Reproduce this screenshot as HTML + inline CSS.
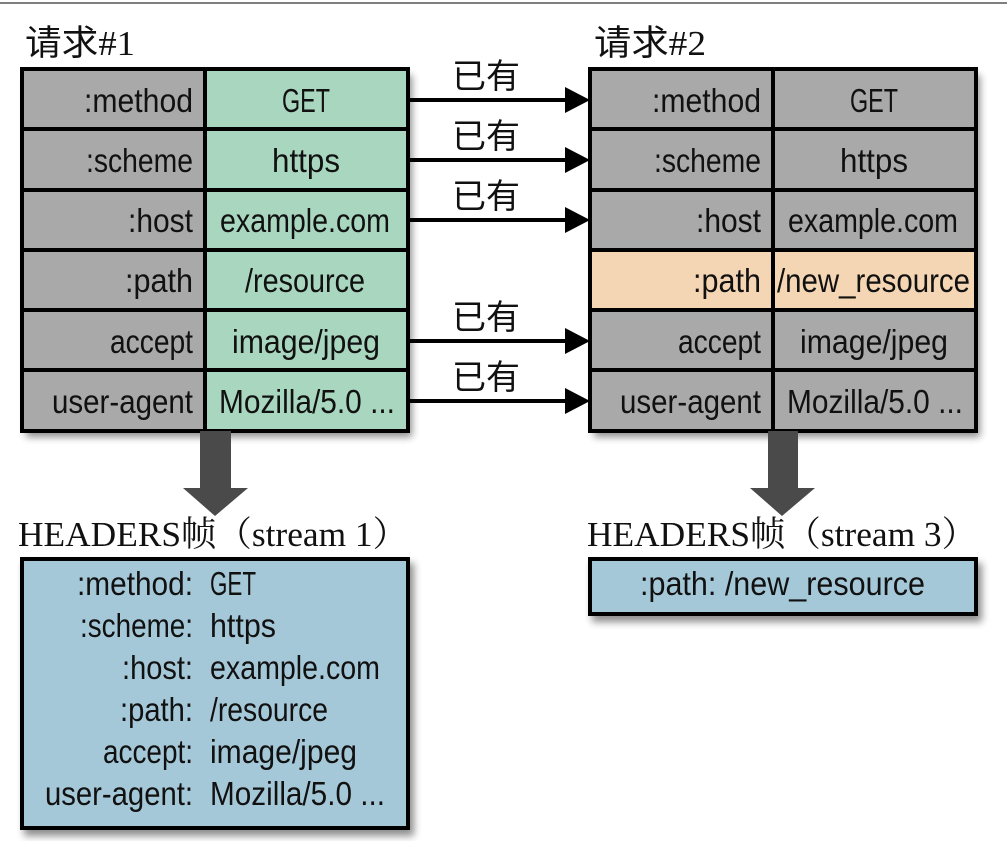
<!DOCTYPE html>
<html><head><meta charset="utf-8"><style>
html,body{margin:0;padding:0;background:#fff;width:1007px;height:841px;overflow:hidden}
svg{display:block}
.n{font-family:"Liberation Sans",sans-serif;font-size:33px;fill:#111}
.s{font-family:"Liberation Serif","Noto Serif CJK SC",serif;font-size:35px;fill:#111}
.c{font-family:"Liberation Sans","Noto Sans CJK SC",sans-serif;font-size:34px;fill:#111}
</style></head><body>
<svg width="1007" height="841" viewBox="0 0 1007 841" xmlns="http://www.w3.org/2000/svg">
<defs><filter id="sh" x="-5%" y="-5%" width="115%" height="120%"><feGaussianBlur in="SourceAlpha" stdDeviation="4"/><feOffset dx="4" dy="6"/><feComponentTransfer><feFuncA type="linear" slope="0.45"/></feComponentTransfer><feMerge><feMergeNode/><feMergeNode in="SourceGraphic"/></feMerge></filter></defs>
<line x1="0" y1="3" x2="1007" y2="3" stroke="#555" stroke-width="1.5"/>
<text class="s" x="25" y="55" textLength="110" lengthAdjust="spacingAndGlyphs"><tspan font-family="Noto Sans CJK SC">请求</tspan>#1</text>
<text class="s" x="594" y="55" textLength="112" lengthAdjust="spacingAndGlyphs"><tspan font-family="Noto Sans CJK SC">请求</tspan>#2</text>

<g filter="url(#sh)"><rect x="22" y="69" width="386" height="362" fill="#000"/></g>
<g stroke="#000" stroke-width="4">
<rect x="22" y="69" width="183" height="362" fill="#a9a9a9"/>
<rect x="205" y="69" width="203" height="362" fill="#a8d6bf"/>
<line x1="22" y1="129" x2="408" y2="129"/><line x1="22" y1="190" x2="408" y2="190"/><line x1="22" y1="250" x2="408" y2="250"/><line x1="22" y1="310" x2="408" y2="310"/><line x1="22" y1="370" x2="408" y2="370"/>
</g>
<g class="n" lengthAdjust="spacingAndGlyphs">
<text x="84" y="112" textLength="109" lengthAdjust="spacingAndGlyphs">:method</text>
<text x="86" y="172" textLength="107" lengthAdjust="spacingAndGlyphs">:scheme</text>
<text x="128" y="232" textLength="65" lengthAdjust="spacingAndGlyphs">:host</text>
<text x="125" y="292" textLength="68" lengthAdjust="spacingAndGlyphs">:path</text>
<text x="110" y="353" textLength="83" lengthAdjust="spacingAndGlyphs">accept</text>
<text x="52" y="413" textLength="141" lengthAdjust="spacingAndGlyphs">user-agent</text>
<text x="282" y="112" textLength="48" lengthAdjust="spacingAndGlyphs">GET</text>
<text x="272" y="172" textLength="68" lengthAdjust="spacingAndGlyphs">https</text>
<text x="220" y="232" textLength="170" lengthAdjust="spacingAndGlyphs">example.com</text>
<text x="245" y="292" textLength="120" lengthAdjust="spacingAndGlyphs">/resource</text>
<text x="232" y="353" textLength="148" lengthAdjust="spacingAndGlyphs">image/jpeg</text>
<text x="219" y="413" textLength="176" lengthAdjust="spacingAndGlyphs">Mozilla/5.0 ...</text>
</g>

<g filter="url(#sh)"><rect x="590" y="69" width="386" height="362" fill="#000"/></g>
<g stroke="#000" stroke-width="4">
<rect x="590" y="69" width="183" height="362" fill="#a9a9a9"/>
<rect x="773" y="69" width="203" height="362" fill="#a9a9a9"/>
<rect x="590" y="250" width="386" height="60" fill="#f5d6b4"/>
<line x1="773" y1="69" x2="773" y2="431"/>
<line x1="590" y1="129" x2="976" y2="129"/><line x1="590" y1="190" x2="976" y2="190"/><line x1="590" y1="250" x2="976" y2="250"/><line x1="590" y1="310" x2="976" y2="310"/><line x1="590" y1="370" x2="976" y2="370"/>
</g>
<g class="n">
<text x="652" y="112" textLength="109" lengthAdjust="spacingAndGlyphs">:method</text>
<text x="654" y="172" textLength="107" lengthAdjust="spacingAndGlyphs">:scheme</text>
<text x="696" y="232" textLength="65" lengthAdjust="spacingAndGlyphs">:host</text>
<text x="693" y="292" textLength="68" lengthAdjust="spacingAndGlyphs">:path</text>
<text x="678" y="353" textLength="83" lengthAdjust="spacingAndGlyphs">accept</text>
<text x="620" y="413" textLength="141" lengthAdjust="spacingAndGlyphs">user-agent</text>
<text x="850" y="112" textLength="48" lengthAdjust="spacingAndGlyphs">GET</text>
<text x="840" y="172" textLength="68" lengthAdjust="spacingAndGlyphs">https</text>
<text x="788" y="232" textLength="170" lengthAdjust="spacingAndGlyphs">example.com</text>
<text x="777" y="292" textLength="193" lengthAdjust="spacingAndGlyphs">/new_resource</text>
<text x="800" y="353" textLength="148" lengthAdjust="spacingAndGlyphs">image/jpeg</text>
<text x="787" y="413" textLength="176" lengthAdjust="spacingAndGlyphs">Mozilla/5.0 ...</text>
</g>

<g stroke="#000" stroke-width="4">
<line x1="408" y1="100" x2="570" y2="100"/><line x1="408" y1="160" x2="570" y2="160"/><line x1="408" y1="220" x2="570" y2="220"/><line x1="408" y1="341" x2="570" y2="341"/><line x1="408" y1="401" x2="570" y2="401"/>
</g>
<g fill="#000">
<polygon points="565,87 590,100 565,113"/><polygon points="565,147 590,160 565,173"/><polygon points="565,207 590,220 565,233"/><polygon points="565,328 590,341 565,354"/><polygon points="565,388 590,401 565,414"/>
</g>
<g class="c">
<text x="452" y="88">已有</text><text x="452" y="148">已有</text><text x="452" y="208">已有</text><text x="452" y="329">已有</text><text x="452" y="389">已有</text>
</g>

<g fill="#4a4a4a">
<rect x="200" y="431" width="31" height="58"/><polygon points="183,488 248,488 215,516"/>
<rect x="768" y="431" width="30" height="58"/><polygon points="750,488 815,488 782,516"/>
</g>

<text class="s" x="18" y="546" textLength="390" lengthAdjust="spacingAndGlyphs">HEADERS<tspan font-family="Noto Serif CJK SC">帧（</tspan>stream 1<tspan font-family="Noto Serif CJK SC">）</tspan></text>
<text class="s" x="587" y="546" textLength="390" lengthAdjust="spacingAndGlyphs">HEADERS<tspan font-family="Noto Serif CJK SC">帧（</tspan>stream 3<tspan font-family="Noto Serif CJK SC">）</tspan></text>

<g filter="url(#sh)">
<rect x="22" y="559" width="386" height="269" fill="#a5c8d8" stroke="#000" stroke-width="4"/>
<rect x="590" y="559" width="386" height="55" fill="#a5c8d8" stroke="#000" stroke-width="4"/>
</g>
<g class="n">
<text x="77" y="595" textLength="116" lengthAdjust="spacingAndGlyphs">:method:</text>
<text x="80" y="637" textLength="113" lengthAdjust="spacingAndGlyphs">:scheme:</text>
<text x="122" y="679" textLength="71" lengthAdjust="spacingAndGlyphs">:host:</text>
<text x="120" y="721" textLength="73" lengthAdjust="spacingAndGlyphs">:path:</text>
<text x="103" y="763" textLength="90" lengthAdjust="spacingAndGlyphs">accept:</text>
<text x="45" y="805" textLength="148" lengthAdjust="spacingAndGlyphs">user-agent:</text>
<text x="210" y="595" textLength="46" lengthAdjust="spacingAndGlyphs">GET</text>
<text x="210" y="637" textLength="66" lengthAdjust="spacingAndGlyphs">https</text>
<text x="210" y="679" textLength="170" lengthAdjust="spacingAndGlyphs">example.com</text>
<text x="210" y="721" textLength="118" lengthAdjust="spacingAndGlyphs">/resource</text>
<text x="210" y="763" textLength="147" lengthAdjust="spacingAndGlyphs">image/jpeg</text>
<text x="210" y="805" textLength="175" lengthAdjust="spacingAndGlyphs">Mozilla/5.0 ...</text>
</g>
<text class="n" x="640" y="595" textLength="285" lengthAdjust="spacingAndGlyphs">:path:  /new_resource</text>
</svg>
</body></html>
